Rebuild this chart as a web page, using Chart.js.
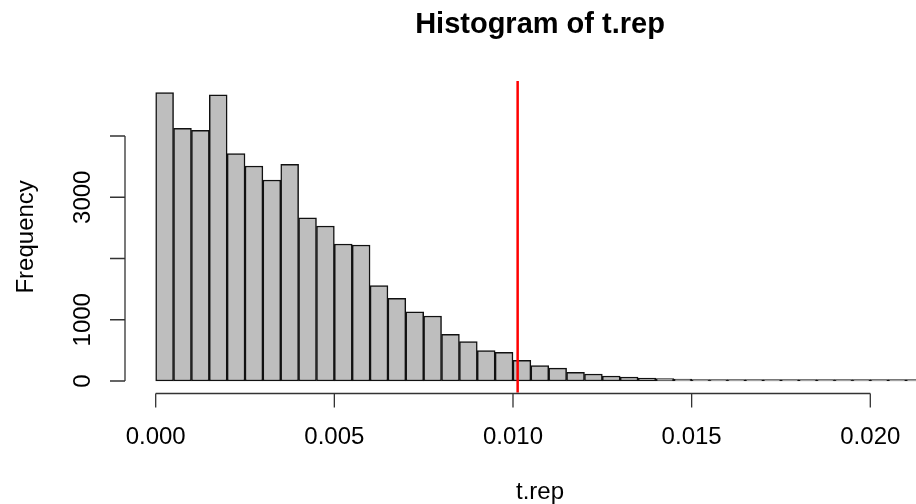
<!DOCTYPE html>
<html>
<head>
<meta charset="utf-8">
<script src="https://cdn.jsdelivr.net/npm/chart.js@4"></script>
<style>
  body { margin: 0; background: #fff; }
  #wrap { width: 916px; height: 504px; }
</style>
</head>
<body>
<div id="wrap"><canvas id="hist" width="916" height="504"></canvas></div>
<script>
// histogram bins (left edges) and counts
var breaks = [0.0000, 0.0005, 0.0010, 0.0015, 0.0020, 0.0025, 0.0030, 0.0035, 0.0040, 0.0045,
              0.0050, 0.0055, 0.0060, 0.0065, 0.0070, 0.0075, 0.0080, 0.0085, 0.0090, 0.0095,
              0.0100, 0.0105, 0.0110, 0.0115, 0.0120, 0.0125, 0.0130, 0.0135, 0.0140, 0.0145,
              0.0150, 0.0155, 0.0160, 0.0165, 0.0170, 0.0175, 0.0180, 0.0185, 0.0190, 0.0195,
              0.0200, 0.0205, 0.0210];
var counts = [4707, 4126, 4093, 4674, 3711, 3510, 3282, 3538, 2666, 2531,
              2237, 2220, 1556, 1350, 1131, 1061, 762, 642, 495, 469,
              338, 250, 210, 142, 114, 82, 65, 49, 38, 30,
              20, 15, 12, 8, 6, 5, 3, 2, 2, 1,
              1, 1, 1];
var binWidth = 0.0005;
var observed = 0.01013;   // red reference line

var xTicks = [0, 0.005, 0.010, 0.015, 0.020];
var xTickLabels = ["0.000", "0.005", "0.010", "0.015", "0.020"];
var yTicks = [0, 1000, 2000, 3000, 4000];
var yTickLabels = ["0", "1000", "", "3000", ""];

var mainTitle = "Histogram of t.rep";
var xTitle = "t.rep";
var yTitle = "Frequency";

var FONT = "'Liberation Sans', Arial, Helvetica, sans-serif";

var barData = [];
for (var i = 0; i < breaks.length; i++) {
  barData.push({ x: breaks[i] + binWidth / 2, y: counts[i] });
}

// axes drawn R style: lines only span the tick range
var rAxes = {
  id: 'rAxes',
  afterDraw: function(chart) {
    var ctx = chart.ctx;
    var xs = chart.scales.x, ys = chart.scales.y;
    var area = chart.chartArea;
    ctx.save();
    ctx.strokeStyle = '#333';
    ctx.lineWidth = 1.3;
    ctx.fillStyle = '#000';

    // x axis
    var ax = 393.5;
    ctx.beginPath();
    ctx.moveTo(xs.getPixelForValue(xTicks[0]), ax);
    ctx.lineTo(xs.getPixelForValue(xTicks[xTicks.length - 1]), ax);
    xTicks.forEach(function(t) {
      var px = xs.getPixelForValue(t);
      ctx.moveTo(px, ax);
      ctx.lineTo(px, ax + 14);
    });
    ctx.stroke();
    ctx.font = '24px ' + FONT;
    ctx.textAlign = 'center';
    ctx.textBaseline = 'alphabetic';
    xTicks.forEach(function(t, k) {
      ctx.fillText(xTickLabels[k], xs.getPixelForValue(t), 444);
    });

    // y axis
    var ay = area.left;
    ctx.beginPath();
    ctx.moveTo(ay, ys.getPixelForValue(yTicks[0]));
    ctx.lineTo(ay, ys.getPixelForValue(yTicks[yTicks.length - 1]));
    yTicks.forEach(function(t) {
      var py = ys.getPixelForValue(t);
      ctx.moveTo(ay, py);
      ctx.lineTo(ay - 15, py);
    });
    ctx.stroke();
    yTicks.forEach(function(t, k) {
      if (!yTickLabels[k]) return;
      ctx.save();
      ctx.translate(90, ys.getPixelForValue(t));
      ctx.rotate(-Math.PI / 2);
      ctx.fillText(yTickLabels[k], 0, 0);
      ctx.restore();
    });

    // titles
    var midX = 540;
    ctx.fillText(xTitle, midX, 499);
    ctx.save();
    ctx.translate(33, (area.top + area.bottom) / 2);
    ctx.rotate(-Math.PI / 2);
    ctx.fillText(yTitle, 0, 0);
    ctx.restore();
    ctx.font = 'bold 29px ' + FONT;
    ctx.fillText(mainTitle, midX, 33);
    ctx.restore();
  }
};

var ctx = document.getElementById('hist');
var chart = new Chart(ctx, {
  type: 'bar',
  data: {
    datasets: [
      {
        type: 'line',
        data: [{ x: observed, y: -191 }, { x: observed, y: 4898 }],
        borderColor: '#ff0000',
        borderWidth: 2.5,
        pointRadius: 0,
        fill: false,
        order: 0
      },
      {
        data: barData,
        backgroundColor: '#bebebe',
        borderColor: '#111111',
        borderWidth: 1.5,
        borderSkipped: false,
        barPercentage: 1,
        categoryPercentage: 1,
        grouped: false,
        minBarLength: 1.5,
        order: 1
      }
    ]
  },
  options: {
    responsive: false,
    animation: false,
    layout: { padding: { left: 125, top: 81, right: 0, bottom: 111.3 } },
    plugins: {
      legend: { display: false },
      tooltip: { enabled: false },
      title: { display: false }
    },
    scales: {
      x: { type: 'linear', display: false, offset: false, min: -0.000859, max: 0.021279 },
      y: { type: 'linear', display: false, min: -191, max: 4898 }
    }
  },
  plugins: [rAxes]
});
</script>
</body>
</html>
